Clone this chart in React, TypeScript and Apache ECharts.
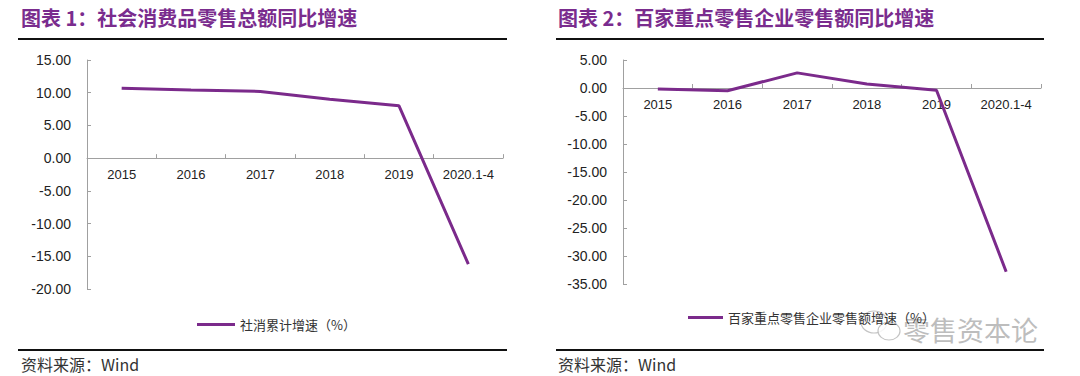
import React, { useEffect, useRef } from "react";
import * as echarts from "echarts";

const categories = ["2015", "2016", "2017", "2018", "2019", "2020.1-4"];
const retailSalesGrowth = [10.7, 10.4, 10.2, 9.0, 8.0, -16.2];
const top100Growth = [-0.2, -0.5, 2.7, 0.7, -0.4, -32.8];
const yRange1 = [-20, 15];
const yRange2 = [-35, 5];
const title1 = "图表 1：社会消费品零售总额同比增速";
const title2 = "图表 2：百家重点零售企业零售额同比增速";
const legend1 = "社消累计增速（%）";
const legend2 = "百家重点零售企业零售额增速（%）";
const sourceText = "资料来源：Wind";
const watermark = "零售资本论";

const PURPLE = "#7b2a8b";
const TITLE_PURPLE = "#7a2c8e";
const AXIS = "#a0a0a0";
const CJK = "'Noto Sans CJK SC', 'Liberation Sans', sans-serif";
const LAT = "'Liberation Sans', Arial, sans-serif";

const H = 376;
const grid1 = { left: 87, right: 577, top: 60, bottom: 87 };
const grid2 = { left: 623, right: 39, top: 60, bottom: 92 };

// offset of the category axis so that it sits on the zero line
function zeroOffset(g: { top: number; bottom: number }, range: number[]) {
  const h = H - g.top - g.bottom;
  return -(h * (0 - range[0])) / (range[1] - range[0]);
}

export default function App() {
  const ref = useRef<HTMLDivElement>(null);
  useEffect(() => {
    if (!ref.current) return;
    const chart = echarts.init(ref.current, undefined, { renderer: "svg" });
    const xAxisBase = (gridIndex: number, offset: number) => ({
      type: "category" as const,
      gridIndex,
      data: categories,
      boundaryGap: true,
      position: "bottom" as const,
      offset,
      axisLine: { onZero: false, lineStyle: { color: AXIS, width: 1 } },
      axisTick: { show: true, inside: true, length: 4, lineStyle: { color: AXIS } },
      axisLabel: { color: "#222", fontSize: 13, fontFamily: LAT, margin: 10 },
    });
    const yAxisBase = (gridIndex: number, range: number[]) => ({
      type: "value" as const,
      gridIndex,
      min: range[0],
      max: range[1],
      interval: 5,
      axisLine: { show: true, lineStyle: { color: AXIS, width: 1 } },
      axisTick: { show: true, inside: true, length: 4, lineStyle: { color: AXIS } },
      splitLine: { show: false },
      axisLabel: {
        color: "#222",
        fontSize: 14,
        fontFamily: LAT,
        margin: 16,
        formatter: (v: number) => v.toFixed(2),
      },
    });
    chart.setOption({
      animation: false,
      backgroundColor: "#ffffff",
      grid: [grid1, grid2],
      xAxis: [xAxisBase(0, zeroOffset(grid1, yRange1)), xAxisBase(1, zeroOffset(grid2, yRange2))],
      yAxis: [yAxisBase(0, yRange1), yAxisBase(1, yRange2)],
      legend: [
        {
          left: 192,
          top: 313,
          icon: "rect",
          itemWidth: 38,
          itemHeight: 3,
          itemGap: 5,
          data: [legend1],
          textStyle: { color: "#333", fontSize: 13, fontFamily: CJK },
        },
        {
          left: 683,
          top: 306,
          icon: "rect",
          itemWidth: 35,
          itemHeight: 3,
          itemGap: 5,
          data: [legend2],
          textStyle: { color: "#333", fontSize: 13, fontFamily: CJK },
        },
      ],
      series: [
        {
          name: legend1,
          type: "line",
          xAxisIndex: 0,
          yAxisIndex: 0,
          data: retailSalesGrowth,
          showSymbol: false,
          symbol: "none",
          lineStyle: { color: PURPLE, width: 3 },
          itemStyle: { color: PURPLE },
        },
        {
          name: legend2,
          type: "line",
          xAxisIndex: 1,
          yAxisIndex: 1,
          data: top100Growth,
          showSymbol: false,
          symbol: "none",
          lineStyle: { color: PURPLE, width: 3 },
          itemStyle: { color: PURPLE },
        },
      ],
      graphic: [
        {
          type: "text",
          left: 21,
          top: 7,
          style: { text: title1, fill: TITLE_PURPLE, font: `bold 20px ${CJK}` },
        },
        {
          type: "text",
          left: 558,
          top: 7,
          style: { text: title2, fill: TITLE_PURPLE, font: `bold 20px ${CJK}` },
        },
        { type: "line", shape: { x1: 18, y1: 39, x2: 507, y2: 39 }, style: { stroke: "#111", lineWidth: 2 } },
        { type: "line", shape: { x1: 556, y1: 39, x2: 1044, y2: 39 }, style: { stroke: "#111", lineWidth: 2 } },
        { type: "line", shape: { x1: 18, y1: 350, x2: 507, y2: 350 }, style: { stroke: "#111", lineWidth: 2 } },
        { type: "line", shape: { x1: 556, y1: 350, x2: 1044, y2: 350 }, style: { stroke: "#111", lineWidth: 2 } },
        {
          type: "text",
          left: 21,
          top: 356,
          style: { text: sourceText, fill: "#333", font: `16px ${CJK}` },
        },
        {
          type: "text",
          left: 558,
          top: 356,
          style: { text: sourceText, fill: "#333", font: `16px ${CJK}` },
        },
        {
          type: "group",
          z: 100,
          children: [
            {
              type: "ellipse",
              shape: { cx: 874, cy: 322, rx: 13, ry: 11 },
              style: { fill: "rgba(255,255,255,0.6)", stroke: "#c4c4c4", lineWidth: 1.2 },
            },
            {
              type: "ellipse",
              shape: { cx: 889, cy: 331, rx: 11, ry: 9 },
              style: { fill: "rgba(255,255,255,0.85)", stroke: "#c4c4c4", lineWidth: 1.2 },
            },
            {
              type: "text",
              left: 903,
              top: 316,
              style: { text: watermark, fill: "#bdbdbd", font: `27px ${CJK}` },
            },
          ],
        },
      ],
    });
    return () => chart.dispose();
  }, []);
  return (
    <div
      ref={ref}
      style={{ position: "fixed", left: 0, top: 0, width: 1080, height: 376, background: "#fff" }}
    />
  );
}
